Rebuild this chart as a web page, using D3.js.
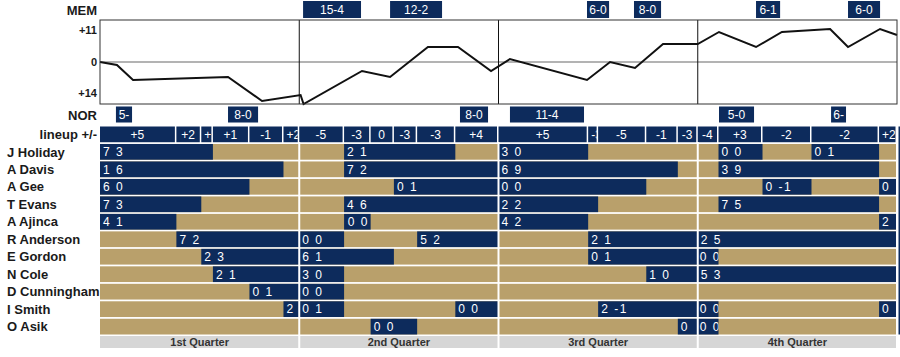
<!DOCTYPE html>
<html><head><meta charset="utf-8">
<script src="https://cdn.jsdelivr.net/npm/d3@7"></script>
<style>
body{margin:0;background:#fff;}
text{font-family:"Liberation Sans",Arial,Helvetica,sans-serif;}
</style>
</head><body>
<svg id="chart" width="900" height="357"></svg>
<script>
// ---------------- data ----------------
const players = ["J Holiday","A Davis","A Gee","T Evans","A Ajinca","R Anderson","E Gordon","N Cole","D Cunningham","I Smith","O Asik"];
const quarterLabels = ["1st Quarter","2nd Quarter","3rd Quarter","4th Quarter"];
const quarterEnds = [12,24,36,48];

// score margin (MEM minus NOR) over game minutes
const scoreTime   = [0, 1.02, 1.99, 7.71, 9.76, 12.08, 12.26, 15.78, 17.47, 19.75, 21.56, 23.55, 24.69, 29.33, 30.72, 32.22, 33.91, 36, 37.28, 39.51, 41.07, 43.97, 45.05, 46.98, 48];
const scoreMargin = [0, -1, -6, -5, -13, -11, -14, -3, -5, 5, 5, -3, 1, -6, 0, -2, 6, 6, 10, 5, 10, 11, 5, 11, 9];
const yTickValues = [11, 0, -14];
const yTickLabels = ["+11", "0", "+14"];

// scoring runs
const memRunStart = [12.23, 17.47, 29.33, 32.16, 39.51, 45.05];
const memRunEnd   = [15.72, 20.60, 30.66, 33.79, 40.96, 46.98];
const memRunLabel = ["15-4", "12-2", "6-0", "8-0", "6-1", "6-0"];
const norRunStart = [0.96, 7.71, 21.68, 24.69, 37.28, 44.03];
const norRunEnd   = [1.93, 9.52, 23.37, 29.15, 39.39, 44.93];
const norRunLabel = ["5-", "8-0", "8-0", "11-4", "5-0", "6-"];

// lineup segments (breaks in minutes) and their +/-
const lineupBreaks = [0, 4.6, 6.1, 6.8, 9.0, 11.05, 12, 14.7, 16.3, 17.7, 19.1, 21.4, 24, 29.4, 30.0, 32.9, 34.8, 36, 37.25, 39.9, 42.85, 46.92, 48];
const lineupPM = ["+5","+2","+2","+1","-1","+2", "-5","-3","0","-3","-3","+4", "+5","-3","-5","-1","-3", "-4","+3","-2","-2","+2"];

// player stints: [player index, start min, end min, label]
const stints = [
  [0, 0, 6.8, "7 3"], [0, 14.7, 21.4, "2 1"], [0, 24, 29.4, "3 0"], [0, 37.25, 39.9, "0 0"], [0, 42.85, 46.92, "0 1"],
  [1, 0, 11.05, "1 6"], [1, 14.7, 24, "7 2"], [1, 24, 34.8, "6 9"], [1, 37.25, 46.92, "3 9"],
  [2, 0, 9.0, "6 0"], [2, 17.7, 24, "0 1"], [2, 24, 32.9, "0 0"], [2, 39.9, 42.85, "0 -1"], [2, 46.92, 48, "0"],
  [3, 0, 6.1, "7 3"], [3, 14.7, 24, "4 6"], [3, 24, 30.0, "2 2"], [3, 37.25, 46.92, "7 5"],
  [4, 0, 4.6, "4 1"], [4, 14.7, 16.3, "0 0"], [4, 24, 29.4, "4 2"], [4, 46.92, 48, "2"],
  [5, 4.6, 12, "7 2"], [5, 12, 14.7, "0 0"], [5, 19.1, 24, "5 2"], [5, 29.4, 36, "2 1"], [5, 36, 48, "2 5"],
  [6, 6.1, 12, "2 3"], [6, 12, 17.7, "6 1"], [6, 29.4, 36, "0 1"], [6, 36, 37.25, "0 0"],
  [7, 6.8, 12, "2 1"], [7, 12, 14.7, "3 0"], [7, 32.9, 36, "1 0"], [7, 36, 48, "5 3"],
  [8, 9.0, 12, "0 1"], [8, 12, 14.7, "0 0"],
  [9, 11.05, 12, "2"], [9, 12, 14.7, "0 1"], [9, 21.4, 24, "0 0"], [9, 30.0, 36, "2 -1"], [9, 36, 37.25, "0 0"], [9, 46.92, 48, "0"],
  [10, 16.3, 19.1, "0 0"], [10, 34.8, 36, "0"], [10, 36, 37.25, "0 0"]
];

// ---------------- drawing ----------------
const NAVY = "#0d2b5c", TAN = "#b9a06b", QGRAY = "#d6d6d6";
const svg = d3.select("#chart");
const x = d3.scaleLinear().domain([0, 48]).range([100, 897]);
const y = d3.scaleLinear().domain([-14, 14]).range([104, 20]);
const rows = d3.scaleBand().domain(["lineup"].concat(players)).range([126.5, 334.5]).paddingInner(0.1);

const defs = svg.append("defs");
let clipId = 0;
function clippedText(g, x0, y0, w, h, label, opts) {
  const id = "clip" + (clipId++);
  defs.append("clipPath").attr("id", id).append("rect").attr("x", x0).attr("y", y0).attr("width", Math.max(0, w)).attr("height", h);
  const t = g.append("text").attr("clip-path", `url(#${id})`)
    .attr("y", y0 + h / 2).attr("dy", "0.36em")
    .attr("fill", "#fff").attr("font-size", opts.size || 12)
    .style("letter-spacing", opts.spacing || "0px")
    .text(label);
  const tw = t.node().getComputedTextLength();
  if (opts.align === "left") {
    let pad = opts.pad || 3;
    if (tw + pad * 2 < w || w > 30) t.attr("x", x0 + pad);
    else t.attr("x", x0 + Math.max(2, (w - tw) / 2 + 1));
    t.attr("text-anchor", "start");
  } else {
    if (tw + 4 > w) t.attr("x", x0 + 3).attr("text-anchor", "start");
    else t.attr("x", x0 + w / 2).attr("text-anchor", "middle");
  }
}

// player names (drawn first; grid overlaps long names)
const nameG = svg.append("g");
players.forEach(p => {
  nameG.append("text").attr("x", 7).attr("y", rows(p) + rows.bandwidth() / 2).attr("dy", "0.36em")
    .attr("font-size", 13).attr("font-weight", "bold").attr("fill", "#1a1a1a").text(p);
});

// left labels
const lab = svg.append("g").attr("font-weight", "bold").attr("fill", "#1a1a1a").attr("text-anchor", "end");
lab.append("text").attr("x", 97).attr("y", 10).attr("dy", "0.36em").attr("font-size", 13).text("MEM");
lab.append("text").attr("x", 97).attr("y", 115).attr("dy", "0.36em").attr("font-size", 13).text("NOR");
lab.append("text").attr("x", 97).attr("y", rows("lineup") + rows.bandwidth() / 2).attr("dy", "0.36em").attr("font-size", 13).text("lineup +/-");
yTickValues.forEach((v, i) => {
  lab.append("text").attr("x", 97).attr("y", Math.max(30, Math.min(93, y(v)))).attr("dy", "0.36em")
    .attr("font-size", 11).text(yTickLabels[i]);
});

// run boxes
const runG = svg.append("g");
memRunStart.forEach((s, i) => {
  const x0 = x(s), w = x(memRunEnd[i]) - x(s);
  runG.append("rect").attr("x", x0).attr("y", 1).attr("width", w).attr("height", 17).attr("fill", NAVY);
  clippedText(runG, x0, 1, w, 17, memRunLabel[i], {size: 12});
});
norRunStart.forEach((s, i) => {
  const x0 = x(s), w = x(norRunEnd[i]) - x(s);
  runG.append("rect").attr("x", x0).attr("y", 106.5).attr("width", w).attr("height", 16).attr("fill", NAVY);
  clippedText(runG, x0, 106.5, w, 16, norRunLabel[i], {size: 12});
});

// score chart
const sc = svg.append("g");
sc.append("line").attr("x1", x(0)).attr("x2", x(48)).attr("y1", y(0)).attr("y2", y(0))
  .attr("stroke", "#9a9a9a").attr("stroke-width", 1.5);
[12, 24, 36].forEach(q => {
  sc.append("line").attr("x1", x(q)).attr("x2", x(q)).attr("y1", y(14)).attr("y2", y(-14))
    .attr("stroke", "#111").attr("stroke-width", 1);
});
const line = d3.line().x((d, i) => x(scoreTime[i])).y(d => y(d));
sc.append("path").datum(scoreMargin).attr("d", line).attr("fill", "none")
  .attr("stroke", "#111").attr("stroke-width", 2).attr("stroke-linejoin", "miter");
sc.append("rect").attr("x", x(0)).attr("y", y(14)).attr("width", x(48) - x(0)).attr("height", y(-14) - y(14))
  .attr("fill", "none").attr("stroke", "#333").attr("stroke-width", 1);

// lineup row
const lg = svg.append("g");
lineupPM.forEach((pm, i) => {
  const x0 = x(lineupBreaks[i]), w = x(lineupBreaks[i + 1]) - x0 - 1.5;
  lg.append("rect").attr("x", x0).attr("y", rows("lineup")).attr("width", w).attr("height", rows.bandwidth()).attr("fill", NAVY);
  clippedText(lg, x0, rows("lineup"), w, rows.bandwidth(), pm, {size: 12});
});

// player rows
const pg = svg.append("g");
players.forEach(p => {
  pg.append("rect").attr("x", x(0)).attr("y", rows(p)).attr("width", x(48) - x(0)).attr("height", rows.bandwidth()).attr("fill", TAN);
});
stints.forEach(s => {
  const p = players[s[0]];
  const x0 = x(s[1]), w = x(s[2]) - x(s[1]);
  pg.append("rect").attr("x", x0).attr("y", rows(p)).attr("width", w).attr("height", rows.bandwidth()).attr("fill", NAVY);
  clippedText(pg, x0, rows(p), w, rows.bandwidth(), s[3], {size: 12, align: "left", pad: 3, spacing: "1.5px"});
});

// quarter label bar
const qg = svg.append("g");
quarterEnds.forEach((e, i) => {
  const s = e - 12;
  qg.append("rect").attr("x", x(s)).attr("y", 336).attr("width", x(e) - x(s)).attr("height", 12).attr("fill", QGRAY);
  qg.append("text").attr("x", (x(s) + x(e)) / 2).attr("y", 342).attr("dy", "0.36em").attr("text-anchor", "middle")
    .attr("font-size", 11).attr("font-weight", "bold").attr("fill", "#333").text(quarterLabels[i]);
});

// quarter separators through grid
[12, 24, 36, 48].forEach(q => {
  svg.append("line").attr("x1", x(q)).attr("x2", x(q)).attr("y1", rows(players[0]) - 2).attr("y2", 348)
    .attr("stroke", "#fff").attr("stroke-width", 2);
});

// continuation strip at the right edge
svg.append("rect").attr("x", 898.5).attr("y", rows("lineup")).attr("width", 2).attr("height", 334.5 - rows("lineup")).attr("fill", NAVY);
</script>
</body></html>
